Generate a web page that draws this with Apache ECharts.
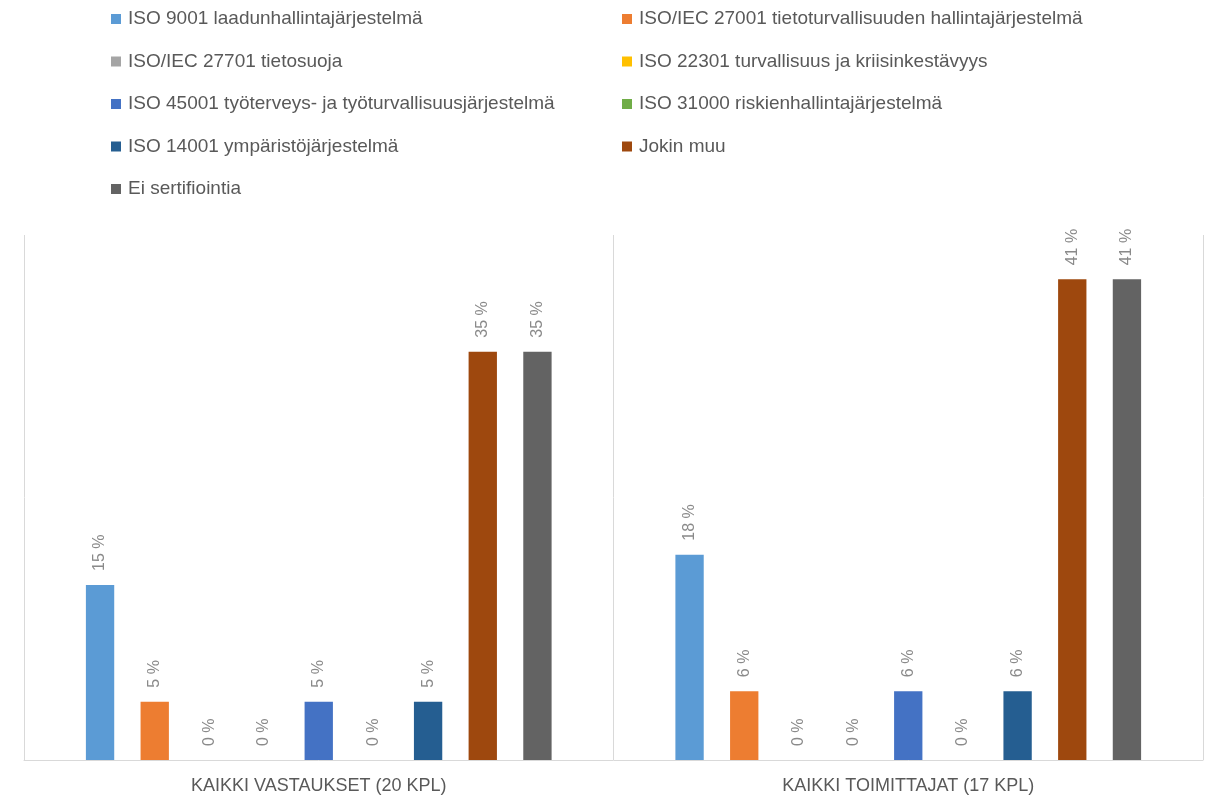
<!DOCTYPE html>
<html>
<head>
<meta charset="utf-8">
<script src="https://cdn.jsdelivr.net/npm/echarts@6/dist/echarts.min.js"></script>
<style>
  html, body { margin: 0; padding: 0; background: #fff; }
  #main { width: 1209px; height: 807px; }
</style>
</head>
<body>
<div id="main"></div>
<script>
// kategoriat (x-akseli)
var categories = ['KAIKKI VASTAUKSET (20 KPL)', 'KAIKKI TOIMITTAJAT (17 KPL)'];

// sarjojen nimet
var seriesNames = [
  'ISO 9001 laadunhallintajärjestelmä',
  'ISO/IEC 27001 tietoturvallisuuden hallintajärjestelmä',
  'ISO/IEC 27701 tietosuoja',
  'ISO 22301 turvallisuus ja kriisinkestävyys',
  'ISO 45001 työterveys- ja työturvallisuusjärjestelmä',
  'ISO 31000 riskienhallintajärjestelmä',
  'ISO 14001 ympäristöjärjestelmä',
  'Jokin muu',
  'Ei sertifiointia'
];

// arvot (%) per sarja: [kaikki vastaukset, kaikki toimittajat]
var iso9001 = [15, 17.6];
var iso27001 = [5, 5.9];
var iso27701 = [0, 0];
var iso22301 = [0, 0];
var iso45001 = [5, 5.9];
var iso31000 = [0, 0];
var iso14001 = [5, 5.9];
var jokinMuu = [35, 41.2];
var eiSertifiointia = [35, 41.2];

var seriesValues = [iso9001, iso27001, iso27701, iso22301, iso45001, iso31000, iso14001, jokinMuu, eiSertifiointia];

var colors = ['#5B9BD5', '#ED7D31', '#A5A5A5', '#FFC000', '#4472C4', '#70AD47', '#255E91', '#9E480E', '#636363'];

var myChart = echarts.init(document.getElementById('main'));

var series = seriesNames.map(function (name, i) {
  return {
    name: name,
    type: 'bar',
    barGap: '93%',
    barCategoryGap: '21%',
    itemStyle: { color: colors[i] },
    label: {
      show: true,
      position: 'top',
      rotate: 90,
      align: 'left',
      verticalAlign: 'middle',
      distance: 14,
      color: '#8a8a8a',
      fontSize: 16,
      fontFamily: 'Liberation Sans',
      formatter: function (p) { return Math.round(p.value) + ' %'; }
    },
    data: seriesValues[i]
  };
});

// legenda kahteen sarakkeeseen
var legendBase = {
  orient: 'vertical',
  icon: 'rect',
  itemWidth: 10,
  itemHeight: 10,
  itemGap: 22.5,
  textStyle: { color: '#595959', fontSize: 19, lineHeight: 20, fontFamily: 'Liberation Sans', padding: [0, 0, 0, 2] }
};

var option = {
  animation: false,
  color: colors,
  legend: [
    Object.assign({}, legendBase, { left: 106, top: 4, data: seriesNames.filter(function (n, i) { return i % 2 === 0; }) }),
    Object.assign({}, legendBase, { left: 617, top: 4, data: seriesNames.filter(function (n, i) { return i % 2 === 1; }) })
  ],
  grid: { left: 24, right: 6, top: 235, bottom: 47 },
  xAxis: {
    type: 'category',
    data: categories,
    axisLine: { lineStyle: { color: '#d9d9d9' } },
    axisTick: { show: false },
    splitLine: { show: true, lineStyle: { color: '#d9d9d9' } },
    axisLabel: { color: '#595959', fontSize: 18, fontFamily: 'Liberation Sans', margin: 17 }
  },
  yAxis: {
    type: 'value',
    min: 0,
    max: 45,
    show: false
  },
  series: series
};

myChart.setOption(option);
</script>
</body>
</html>
